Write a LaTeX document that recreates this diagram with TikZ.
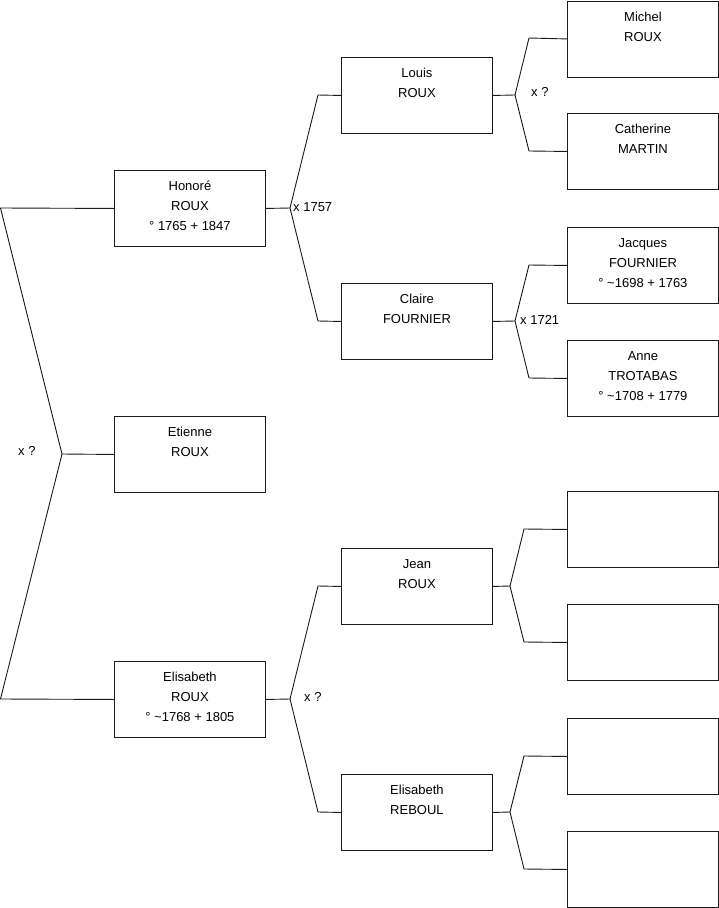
\documentclass[tikz,border=0pt]{standalone}
\usepackage{fontspec}
\setmainfont{Liberation Sans}
\usetikzlibrary{positioning}
\definecolor{treeline}{HTML}{1A1A1A}

\begin{document}
\begin{tikzpicture}[
  x=1pt, y=-1pt,
  person/.style={draw=treeline, line width=0.9pt, inner sep=0pt,
                 font=\fontsize{13}{20}\selectfont,
                 execute at begin node={\begin{minipage}[c][76pt][t]{151pt}\centering\vspace*{6.5pt}\strut},
                 execute at end node={\end{minipage}}},
  link/.style={draw=treeline, line width=0.9pt},
  wed/.style={font=\fontsize{13}{15}\selectfont, inner sep=0pt}
]
\useasboundingbox (0,0) rectangle (719,908);

% generation 1
\node[person, anchor=north west] (honore) at (114,170) {Honoré\\ROUX\\° 1765 + 1847};
\node[person, anchor=north west] (etienne) at (114,416) {Etienne\\ROUX};
\node[person, anchor=north west] (elisabeth) at (114,661) {Elisabeth\\ROUX\\° \textasciitilde1768 + 1805};

% generation 2
\node[person, anchor=north west] (louis) at (341,57) {Louis\\ROUX};
\node[person, anchor=north west] (claire) at (341,283) {Claire\\FOURNIER};
\node[person, anchor=north west] (jean) at (341,548) {Jean\\ROUX};
\node[person, anchor=north west] (reboul) at (341,774) {Elisabeth\\REBOUL};

% generation 3
\node[person, anchor=north west] (michel) at (567,0.5) {Michel\\ROUX};
\node[person, anchor=north west] (catherine) at (567,113) {Catherine\\MARTIN};
\node[person, anchor=north west] (jacques) at (567,227) {Jacques\\FOURNIER\\° \textasciitilde1698 + 1763};
\node[person, anchor=north west] (anne) at (567,340) {Anne\\TROTABAS\\° \textasciitilde1708 + 1779};
\node[person, anchor=north west] (blanka) at (567,491) {};
\node[person, anchor=north west] (blankb) at (567,604) {};
\node[person, anchor=north west] (blankc) at (567,718) {};
\node[person, anchor=north west] (blankd) at (567,831) {};

% siblings
\coordinate (sibtop) at (0.5,208);
\coordinate (sibmid) at (62,454);
\coordinate (sibbot) at (0.5,699);
\draw[link] (honore.west) -- (sibtop) -- (sibmid) -- (etienne.west);
\draw[link] (sibmid) -- (sibbot) -- (elisabeth.west);
\node[wed, anchor=west] (wedsib) at (18,451) {x ?};

% couples
\coordinate (forkhonore) at (290,208);
\draw[link] (honore.east) -- (forkhonore) -- (318,95) -- (louis.west);
\draw[link] (forkhonore) -- (318,321) -- (claire.west);
\node[wed, anchor=west] (wedhonore) at (293,207) {x 1757};

\coordinate (forkelisabeth) at (290,699);
\draw[link] (elisabeth.east) -- (forkelisabeth) -- (318,586) -- (jean.west);
\draw[link] (forkelisabeth) -- (318,812) -- (reboul.west);
\node[wed, anchor=west] (wedelisabeth) at (304,697) {x ?};

\coordinate (forklouis) at (515,95);
\draw[link] (louis.east) -- (forklouis) -- (529,38) -- (michel.west);
\draw[link] (forklouis) -- (529,151) -- (catherine.west);
\node[wed, anchor=west] (wedlouis) at (531,92) {x ?};

\coordinate (forkclaire) at (515,321);
\draw[link] (claire.east) -- (forkclaire) -- (529,265) -- (jacques.west);
\draw[link] (forkclaire) -- (529,378) -- (anne.west);
\node[wed, anchor=west] (wedclaire) at (520,320) {x 1721};

\coordinate (forkjean) at (510,586);
\draw[link] (jean.east) -- (forkjean) -- (524,529) -- (blanka.west);
\draw[link] (forkjean) -- (524,642) -- (blankb.west);

\coordinate (forkreboul) at (510,812);
\draw[link] (reboul.east) -- (forkreboul) -- (524,756) -- (blankc.west);
\draw[link] (forkreboul) -- (524,869) -- (blankd.west);
\end{tikzpicture}
\end{document}
